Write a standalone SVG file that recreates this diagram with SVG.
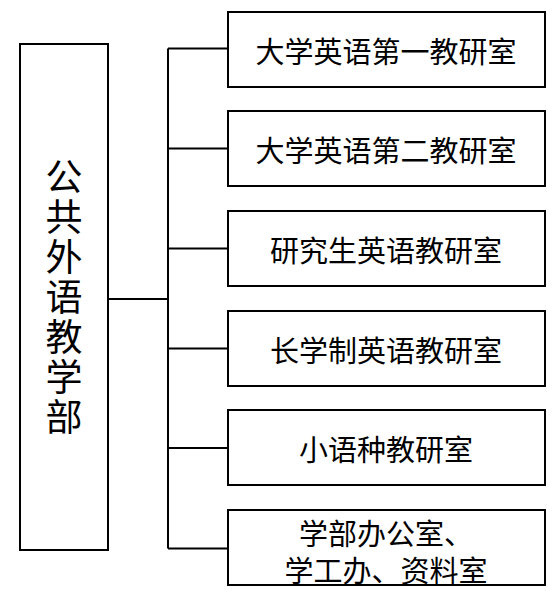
<svg xmlns="http://www.w3.org/2000/svg" width="560" height="596" viewBox="0 0 560 596">
<style>
.box{fill:#fff;stroke:#000;stroke-width:2}
.ln{fill:none;stroke:#000;stroke-width:2}
.t{font-family:"Noto Sans CJK SC","Noto Sans CJK TC",sans-serif;font-size:29px;fill:#000;text-anchor:middle;dominant-baseline:central}
.v{font-size:37px}
</style>
<rect width="560" height="596" fill="#fff"/>
<g id="connectors">
<path class="ln" d="M108 299H168M168 48.5V548.5M168 48.5H228M168 148.5H228M168 248.5H228M168 348.5H228M168 448H228M168 548.5H228"/>
</g>
<g id="root">
<rect class="box" x="20" y="44" width="88" height="506"/>
<text class="t v" x="64"><tspan x="64" y="175">公</tspan><tspan x="64" y="215">共</tspan><tspan x="64" y="255">外</tspan><tspan x="64" y="295">语</tspan><tspan x="64" y="335">教</tspan><tspan x="64" y="375">学</tspan><tspan x="64" y="415">部</tspan></text>
</g>
<g id="n1"><rect class="box" x="228" y="12" width="317" height="75"/><text class="t" x="386" y="50">大学英语第一教研室</text></g>
<g id="n2"><rect class="box" x="228" y="111" width="317" height="75"/><text class="t" x="386" y="149">大学英语第二教研室</text></g>
<g id="n3"><rect class="box" x="228" y="211" width="317" height="75"/><text class="t" x="386" y="249">研究生英语教研室</text></g>
<g id="n4"><rect class="box" x="228" y="311" width="317" height="75"/><text class="t" x="386" y="349">长学制英语教研室</text></g>
<g id="n5"><rect class="box" x="228" y="410" width="317" height="75"/><text class="t" x="386" y="448">小语种教研室</text></g>
<g id="n6"><rect class="box" x="228" y="510" width="317" height="75"/><text class="t" x="386" y="532">学部办公室、</text><text class="t" x="386" y="569">学工办、资料室</text></g>
</svg>
